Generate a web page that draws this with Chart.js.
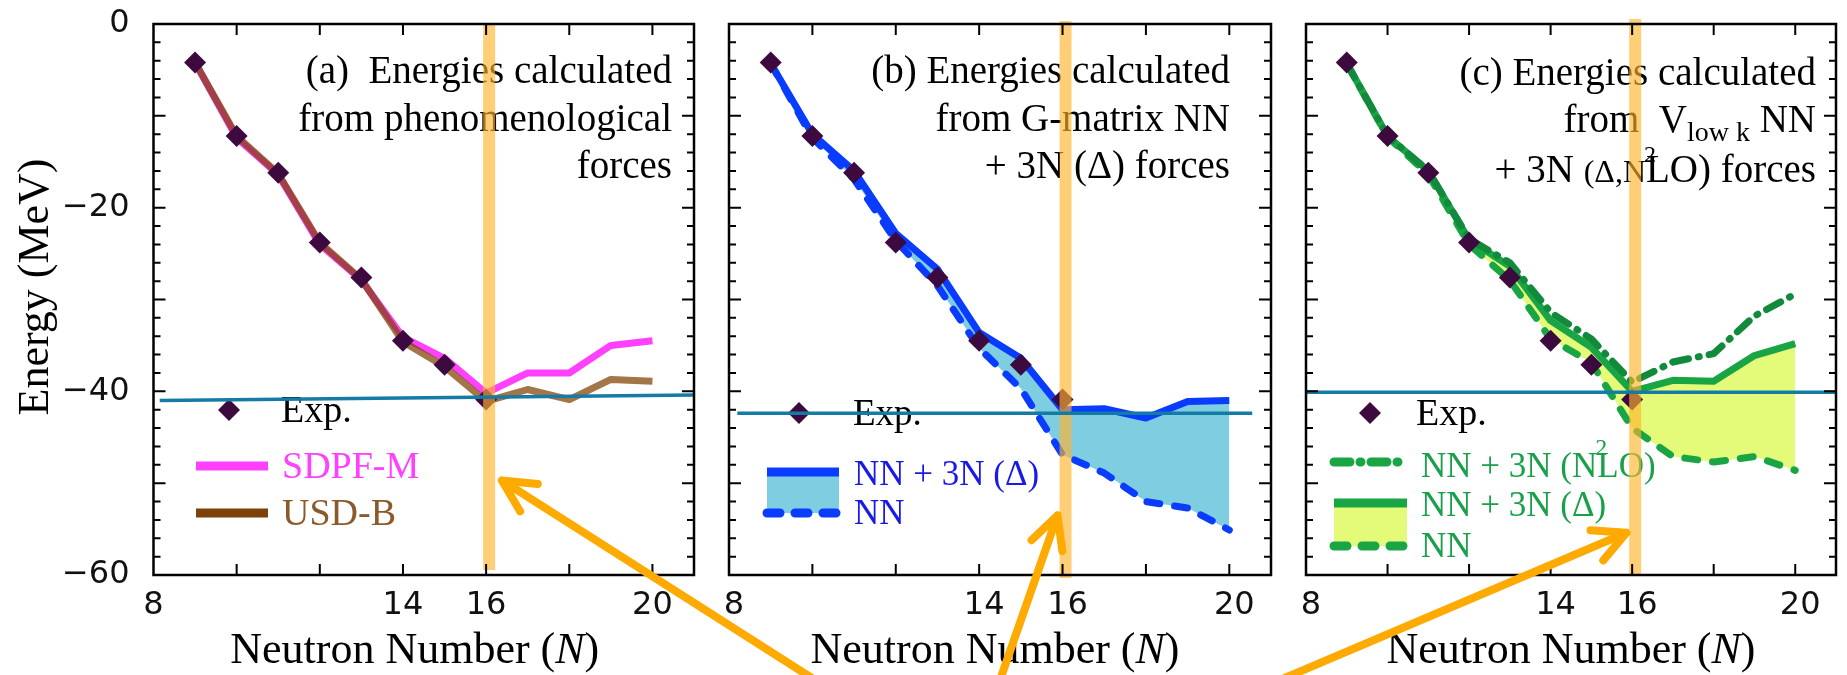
<!DOCTYPE html>
<html>
<head>
<meta charset="utf-8">
<script src="https://cdn.jsdelivr.net/npm/chart.js@4.4.1/dist/chart.umd.min.js"></script>
<style>
  body { margin: 0; background: #fff; width: 1847px; height: 675px; overflow: hidden; position: relative; }
  canvas { position: absolute; top: 0; }
</style>
</head>
<body>
<canvas id="panelA" width="712" height="675" style="left:0px"></canvas>
<canvas id="panelB" width="577" height="675" style="left:712px"></canvas>
<canvas id="panelC" width="558" height="675" style="left:1289px"></canvas>
<canvas id="arrows" width="1847" height="675" style="left:0px; pointer-events:none"></canvas>
<script>
// Oxygen isotopes: energies relative to 16O, N = 9 ... 20
const neutrons = [9, 10, 11, 12, 13, 14, 15, 16, 17, 18, 19, 20];
const expEnergy = [-4.2, -12.2, -16.2, -23.8, -27.6, -34.5, -37.1, -40.9];

// (a) phenomenological interactions
const sdpfmEnergy = [-4.2, -12.4, -16.4, -24.0, -27.9, -34.1, -36.4, -40.2, -38.0, -38.0, -35.0, -34.5];
const usdbEnergy  = [-4.2, -12.2, -16.3, -23.8, -27.8, -34.6, -37.3, -41.1, -39.8, -40.9, -38.7, -38.9];

// (b) G-matrix NN, with and without the Delta 3N forces
const gNN3NEnergy = [-4.3, -12.0, -16.0, -22.8, -26.7, -33.6, -36.4, -42.0, -41.9, -42.9, -41.1, -41.0];
const gNNEnergy   = [-4.3, -12.4, -16.9, -23.6, -28.5, -35.3, -39.7, -46.9, -48.9, -52.0, -52.7, -55.1];

// (c) Vlowk NN, with N2LO or Delta 3N forces
const vN2LOEnergy  = [-4.3, -12.2, -16.0, -23.4, -26.0, -31.4, -34.3, -39.0, -36.8, -35.9, -31.8, -29.4];
const vDeltaEnergy = [-4.3, -12.2, -16.0, -23.5, -26.4, -32.3, -35.2, -40.0, -38.8, -38.9, -36.1, -34.8];
const vNNEnergy    = [-4.3, -12.3, -16.4, -24.0, -27.9, -34.3, -36.9, -44.0, -47.1, -47.7, -47.1, -48.6];

// horizontal guide lines through each panel
const refLineA = [{x: 8.15, y: -41.0}, {x: 21, y: -40.4}];
const refLineB = [{x: 8.2, y: -42.4}, {x: 20.55, y: -42.4}];
const refLineC = [{x: 8, y: -40.1}, {x: 21, y: -40.1}];

const xTickLabels = [8, 14, 16, 20];
const yTickLabels = [0, -20, -40, -60];

const serif = "'Liberation Serif', 'Times New Roman', serif";
const sans = "'DejaVu Sans', Verdana, sans-serif";

const expColor = '#3c0a3f';
const refColor = '#147aa6';
const magenta = '#ff40ff';
const brown = 'rgba(128,64,0,0.72)';
const blue = '#0a3cff';
const blueText = '#1a1ae6';
const greenSolid = '#19a544';
const greenDark = '#128a3c';
const greenText = '#19a04b';
const lineDash = [13, 15];
const dashDot = [16, 10, 1, 10];

const pts = ys => ys.map((y, i) => ({x: neutrons[i], y: y}));

function segFont(s, base) {
    return (s.italic ? 'italic ' : '') + (s.size || base) + 'px ' + serif;
}

// draws a run of text pieces (sub/superscripts, italics) on one baseline
function drawRich(ctx, segs, x, y, align, color, base) {
    let w = 0;
    segs.forEach(s => {
        ctx.font = segFont(s, base);
        s.w = s.skip ? 0 : ctx.measureText(s.t).width;
        w += s.w;
    });
    let cx = align === 'right' ? x - w : align === 'center' ? x - w / 2 : x;
    ctx.fillStyle = color;
    ctx.textAlign = 'left';
    ctx.textBaseline = 'alphabetic';
    segs.forEach(s => {
        ctx.font = segFont(s, base);
        ctx.fillText(s.t, cx + (s.dx || 0), y + (s.dy || 0));
        cx += s.w;
    });
}

const panelDecor = {
    id: 'panelDecor',
    beforeDatasetsDraw(chart, args, o) {
        const ctx = chart.ctx;
        const a = chart.chartArea;
        ctx.save();
        // caption in the upper right corner
        o.notes.forEach(n => drawRich(ctx, n.segs, a.right - o.noteRight, n.y, 'right', '#000', 39));
        // legend, positioned relative to the plot area
        o.legend.forEach(it => {
            if (it.type === 'diamond') {
                const r = 11;
                const x = a.left + it.x, y = a.top + it.y;
                ctx.fillStyle = expColor;
                ctx.beginPath();
                ctx.moveTo(x, y - r); ctx.lineTo(x + r, y); ctx.lineTo(x, y + r); ctx.lineTo(x - r, y);
                ctx.closePath();
                ctx.fill();
            } else if (it.type === 'box') {
                ctx.fillStyle = it.color;
                ctx.fillRect(a.left + it.x1, a.top + it.y1, it.x2 - it.x1, it.y2 - it.y1);
            } else if (it.type === 'line') {
                ctx.strokeStyle = it.color;
                ctx.lineWidth = it.width || 9;
                ctx.lineCap = it.dash ? 'round' : 'butt';
                ctx.setLineDash(it.dash || []);
                ctx.beginPath();
                ctx.moveTo(a.left + it.x1, a.top + it.y);
                ctx.lineTo(a.left + it.x2, a.top + it.y);
                ctx.stroke();
                ctx.setLineDash([]);
            } else if (it.type === 'text') {
                drawRich(ctx, it.segs, a.left + it.x, a.top + it.y, 'left', it.color, it.size);
            }
        });
        ctx.restore();
    },
    afterDatasetDraw(chart, args, o) {
        // orange band at N = 16, laid over the points but under the guide line
        if (args.index !== 1) return;
        const ctx = chart.ctx;
        const a = chart.chartArea;
        const cx = chart.scales.x.getPixelForValue(16) + 3;
        ctx.save();
        ctx.fillStyle = 'rgba(255,180,44,0.64)';
        ctx.fillRect(cx - 6, a.top + o.bandTop, 12, a.bottom - a.top - o.bandTop + o.bandBottom);
        ctx.restore();
    },
    afterDraw(chart, args, o) {
        const ctx = chart.ctx;
        const a = chart.chartArea;
        const xs = chart.scales.x, ys = chart.scales.y;
        ctx.save();
        // frame with inward ticks on all four sides
        ctx.strokeStyle = '#000';
        ctx.lineWidth = 2.5;
        ctx.strokeRect(a.left, a.top, a.right - a.left, a.bottom - a.top);
        ctx.lineWidth = 2;
        ctx.beginPath();
        for (let n = 10; n <= 20; n += 2) {
            const px = xs.getPixelForValue(n);
            ctx.moveTo(px, a.bottom); ctx.lineTo(px, a.bottom - 11);
            ctx.moveTo(px, a.top); ctx.lineTo(px, a.top + 11);
        }
        for (let e = -58; e <= -2; e += 2) {
            const py = ys.getPixelForValue(e);
            const len = e % 10 === 0 ? 12 : 7;
            ctx.moveTo(a.left, py); ctx.lineTo(a.left + len, py);
            ctx.moveTo(a.right, py); ctx.lineTo(a.right - len, py);
        }
        ctx.stroke();

        // axis titles
        drawRich(ctx, [{t: 'Neutron Number ('}, {t: 'N', italic: true}, {t: ')'}],
            (a.left + a.right) / 2 + o.titleShift, 663, 'center', '#000', 44);
        if (o.yTitle) {
            ctx.translate(48, 287);
            ctx.rotate(-Math.PI / 2);
            ctx.font = '44px ' + serif;
            ctx.fillStyle = '#000';
            ctx.textAlign = 'center';
            ctx.textBaseline = 'alphabetic';
            ctx.fillText('Energy (MeV)', 0, 0);
        }
        ctx.restore();
    }
};

function lineSet(data, color, extra) {
    return Object.assign({
        data: data,
        borderColor: color,
        borderWidth: 7,
        pointRadius: 0,
        tension: 0,
        fill: false,
        borderJoinStyle: 'round'
    }, extra || {});
}

function expSet() {
    return {
        data: pts(expEnergy),
        showLine: false,
        pointStyle: 'rectRot',
        pointRadius: 11,
        pointBackgroundColor: expColor,
        pointBorderWidth: 0
    };
}

function refSet(data) {
    return {data: data, borderColor: refColor, borderWidth: 3.5, pointRadius: 0, fill: false};
}

function makePanel(id, datasets, decor, showY, padding, labelShift) {
    return new Chart(document.getElementById(id).getContext('2d'), {
        type: 'line',
        data: {datasets: datasets},
        options: {
            responsive: false,
            animation: false,
            layout: {padding: padding},
            plugins: {
                legend: {display: false},
                tooltip: {enabled: false},
                panelDecor: decor
            },
            scales: {
                x: {
                    type: 'linear', min: 8, max: 21,
                    grid: {display: false, drawTicks: false},
                    border: {display: false},
                    afterBuildTicks: s => { s.ticks = xTickLabels.map(v => ({value: v})); },
                    afterFit: s => { s.height = 100; s.paddingLeft = 0; s.paddingRight = 0; },
                    ticks: {
                        font: {family: sans, size: 32}, color: '#111', padding: 11,
                        maxRotation: 0, autoSkip: false, labelOffset: labelShift
                    }
                },
                y: {
                    display: showY, min: -60, max: 0,
                    grid: {display: false, drawTicks: false},
                    border: {display: false},
                    afterBuildTicks: s => { s.ticks = yTickLabels.map(v => ({value: v})); },
                    afterFit: s => {
                        s.width = showY ? 153.5 : 0;
                        s.paddingTop = 0; s.paddingBottom = 0;
                    },
                    ticks: {
                        font: {family: sans, size: 32}, color: '#111', padding: 24,
                        callback: v => v < 0 ? '\u2212' + Math.abs(v) : String(v)
                    }
                }
            }
        },
        plugins: [panelDecor]
    });
}

const chartA = makePanel('panelA', [
    refSet(refLineA),
    expSet(),
    lineSet(pts(usdbEnergy), brown),
    lineSet(pts(sdpfmEnergy), magenta)
], {
    noteRight: 22,
    notes: [
        {y: 83, segs: [{t: '(a)  Energies calculated'}]},
        {y: 131, segs: [{t: 'from phenomenological'}]},
        {y: 178, segs: [{t: 'forces'}]}
    ],
    legend: [
        {type: 'diamond', x: 75.5, y: 386},
        {type: 'text', x: 127.5, y: 398, size: 38, color: '#000', segs: [{t: 'Exp.'}]},
        {type: 'line', x1: 42.5, x2: 114.5, y: 442, color: magenta},
        {type: 'text', x: 128.5, y: 454, size: 38, color: magenta, segs: [{t: 'SDPF-M'}]},
        {type: 'line', x1: 42.5, x2: 114.5, y: 489, color: '#7d4208'},
        {type: 'text', x: 128.5, y: 501, size: 38, color: '#8c5a2a', segs: [{t: 'USD-B'}]}
    ],
    bandTop: 0, bandBottom: -5, titleShift: -9, yTitle: true
}, true, {top: 24, right: 18, left: 0, bottom: 0}, 0);

// the dashed NN curve comes before the filled curve so it is drawn above the fill
const chartB = makePanel('panelB', [
    refSet(refLineB),
    expSet(),
    lineSet(pts(gNNEnergy), blue, {borderDash: lineDash, borderCapStyle: 'round'}),
    lineSet(pts(gNN3NEnergy), blue, {fill: 2, backgroundColor: '#7fcde0'})
], {
    noteRight: 41,
    notes: [
        {y: 83, segs: [{t: '(b) Energies calculated'}]},
        {y: 131, segs: [{t: 'from G-matrix NN'}]},
        {y: 178, segs: [{t: '+ 3N (\u0394) forces'}]}
    ],
    legend: [
        {type: 'diamond', x: 70, y: 389},
        {type: 'text', x: 124, y: 401, size: 37, color: '#000', segs: [{t: 'Exp.'}]},
        {type: 'box', x1: 38, x2: 110, y1: 448, y2: 489, color: '#7fcde0'},
        {type: 'line', x1: 38, x2: 110, y: 448, color: blue},
        {type: 'line', x1: 38, x2: 110, y: 489, color: blue, dash: lineDash},
        {type: 'text', x: 125, y: 461, size: 35, color: blueText, segs: [{t: 'NN + 3N (\u0394)'}]},
        {type: 'text', x: 125, y: 500, size: 35, color: blueText, segs: [{t: 'NN'}]}
    ],
    bandTop: -3, bandBottom: 3, titleShift: -5, yTitle: false
}, false, {top: 24, right: 18, left: 17, bottom: 0}, 5);

const chartC = makePanel('panelC', [
    refSet(refLineC),
    expSet(),
    lineSet(pts(vN2LOEnergy), greenDark, {borderDash: dashDot, borderCapStyle: 'round'}),
    lineSet(pts(vNNEnergy), greenSolid, {borderDash: lineDash, borderCapStyle: 'round'}),
    lineSet(pts(vDeltaEnergy), greenSolid, {fill: 3, backgroundColor: '#e4fb7a'})
], {
    noteRight: 20,
    notes: [
        {y: 85, segs: [{t: '(c) Energies calculated'}]},
        {y: 132, segs: [{t: 'from  V'}, {t: 'low k', size: 28, dy: 9}, {t: ' NN'}]},
        {y: 182, segs: [{t: '+ 3N '}, {t: '(\u0394,N', size: 32}, {t: '2', size: 24, dy: -20, dx: -2, skip: true}, {t: 'LO) forces'}]}
    ],
    legend: [
        {type: 'diamond', x: 64, y: 389},
        {type: 'text', x: 110, y: 401, size: 38, color: '#000', segs: [{t: 'Exp.'}]},
        {type: 'line', x1: 28, x2: 101, y: 438, color: greenSolid, dash: dashDot},
        {type: 'text', x: 115, y: 453, size: 35, color: greenText,
            segs: [{t: 'NN + 3N (N'}, {t: '2', size: 24, dy: -22, dx: -2, skip: true}, {t: 'LO)'}]},
        {type: 'box', x1: 28, x2: 101, y1: 479, y2: 522, color: '#e4fb7a'},
        {type: 'line', x1: 28, x2: 101, y: 479, color: greenSolid},
        {type: 'line', x1: 28, x2: 101, y: 522, color: greenSolid, dash: lineDash},
        {type: 'text', x: 115, y: 492, size: 35, color: greenText, segs: [{t: 'NN + 3N (\u0394)'}]},
        {type: 'text', x: 115, y: 533, size: 35, color: greenText, segs: [{t: 'NN'}]}
    ],
    bandTop: -5, bandBottom: 0, titleShift: 0, yTitle: false
}, false, {top: 24, right: 1, left: 17, bottom: 0}, 5);

// orange arrows from the bottom edge pointing at the N = 16 band of each panel
function drawArrows() {
    const ctx = document.getElementById('arrows').getContext('2d');
    const targets = [
        {chart: chartA, left: 0, n: 16.38, e: -49.7, tail: [815, 680]},
        {chart: chartB, left: 712, n: 15.88, e: -53.5, tail: [1000, 680]},
        {chart: chartC, left: 1289, n: 15.86, e: -55.4, tail: [1280, 680]}
    ];
    ctx.strokeStyle = '#ffaa00';
    ctx.lineWidth = 8;
    ctx.lineCap = 'round';
    ctx.lineJoin = 'round';
    targets.forEach(t => {
        const hx = t.left + t.chart.scales.x.getPixelForValue(t.n);
        const hy = t.chart.scales.y.getPixelForValue(t.e);
        const ang = Math.atan2(hy - t.tail[1], hx - t.tail[0]);
        const len = 36, spread = 0.47;
        ctx.beginPath();
        ctx.moveTo(t.tail[0], t.tail[1]);
        ctx.lineTo(hx, hy);
        ctx.moveTo(hx - len * Math.cos(ang - spread), hy - len * Math.sin(ang - spread));
        ctx.lineTo(hx, hy);
        ctx.lineTo(hx - len * Math.cos(ang + spread), hy - len * Math.sin(ang + spread));
        ctx.stroke();
    });
}
drawArrows();
</script>
</body>
</html>
